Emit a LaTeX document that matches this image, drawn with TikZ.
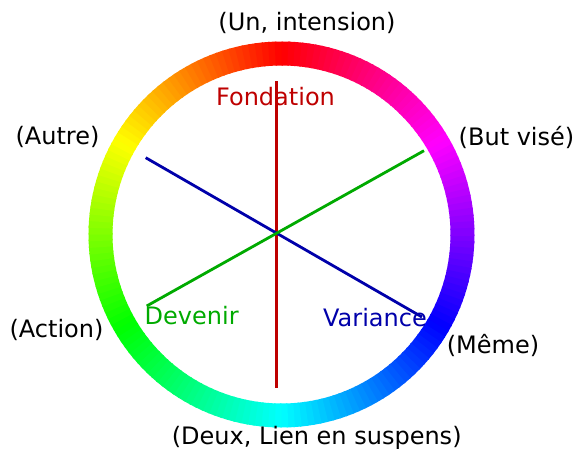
\documentclass[tikz,border=0pt]{standalone}
\usepackage{fontspec}
\setmainfont{DejaVu Sans}
\definecolor{fondred}{RGB}{190,0,0}
\definecolor{devgreen}{RGB}{0,170,0}
\definecolor{varblue}{RGB}{0,0,170}
\begin{document}
\begin{tikzpicture}[x=1pt,y=-1pt,
  lbl/.style={font=\fontsize{24}{28}\selectfont, inner sep=0pt, text=black},
  axisline/.style={line width=2.8pt}]
\useasboundingbox (0,0) rectangle (578,452);
% colour ring
\begin{scope}[shift={(281.5,234.5)}]
\foreach \i in {0,...,179}{
  \pgfmathsetmacro\a{2*\i}
  \pgfmathsetmacro\b{2*\i+2.5}
  \pgfmathtruncatemacro\h{mod(270-2*\i-1+720,360)}
  \definecolor{seg}{Hsb}{\h,1,1}
  \fill[seg] (\a:169) arc[start angle=\a, end angle=\b, radius=169]
     -- (\b:193) arc[start angle=\b, end angle=\a, radius=193] -- cycle;
}
\end{scope}
% line end points
\coordinate (c) at (276.7,233.3);
\coordinate (rt) at (276.7,81);
\coordinate (rb) at (276.7,388);
\coordinate (bl) at (145.7,157.7);
\coordinate (br) at (422,317);
\coordinate (gl) at (146.7,306);
\coordinate (gr) at (424,150.7);
\draw[axisline, fondred] (rt) -- (rb);
\draw[axisline, varblue] (bl) -- (br);
\draw[axisline, devgreen] (gl) -- (gr);
% labels
\node[lbl] (un) at (307,23) {(Un, intension)};
\node[lbl, text=fondred] (fond) at (275.5,97) {Fondation};
\node[lbl] (autre) at (57.5,137) {(Autre)};
\node[lbl] (but) at (516.5,137) {(But visé)};
\node[lbl] (action) at (56.5,330) {(Action)};
\node[lbl, text=devgreen] (devenir) at (191.7,316) {Devenir};
\node[lbl, text=varblue] (variance) at (375,318) {Variance};
\node[lbl] (meme) at (493,345) {(Même)};
\node[lbl] (deux) at (316.7,438) {(Deux, Lien en suspens)};
\end{tikzpicture}
\end{document}
